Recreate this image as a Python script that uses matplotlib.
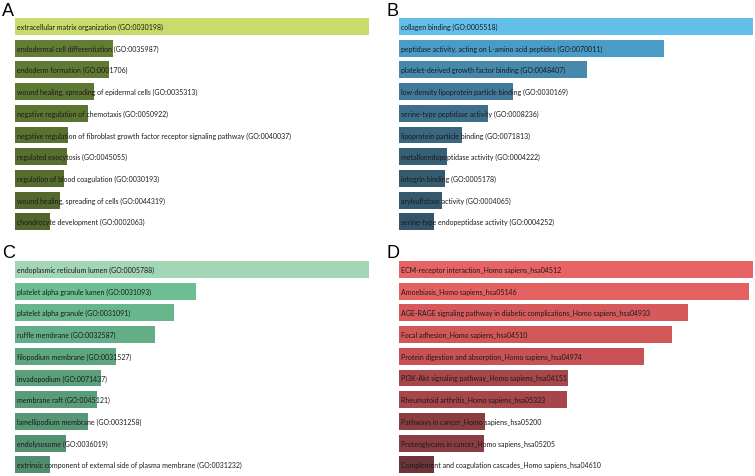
import matplotlib
matplotlib.use("Agg")
import matplotlib.pyplot as plt

# relative bar lengths (% of the top term)
go_bp_terms = [
    "extracellular matrix organization (GO:0030198)",
    "endodermal cell differentiation (GO:0035987)",
    "endoderm formation (GO:0001706)",
    "wound healing, spreading of epidermal cells (GO:0035313)",
    "negative regulation of chemotaxis (GO:0050922)",
    "negative regulation of fibroblast growth factor receptor signaling pathway (GO:0040037)",
    "regulated exocytosis (GO:0045055)",
    "regulation of blood coagulation (GO:0030193)",
    "wound healing, spreading of cells (GO:0044319)",
    "chondrocyte development (GO:0002063)",
]
go_bp_scores = [100, 27.7, 26.6, 22.3, 20.6, 15.0, 14.7, 13.8, 12.7, 9.9]
go_bp_colors = ["#c8dc6c", "#627c34", "#607a33", "#5e7732", "#5c7431",
                "#5a7130", "#586e2f", "#566b2e", "#54682d", "#52652c"]

go_mf_terms = [
    "collagen binding (GO:0005518)",
    "peptidase activity, acting on L-amino acid peptides (GO:0070011)",
    "platelet-derived growth factor binding (GO:0048407)",
    "low-density lipoprotein particle binding (GO:0030169)",
    "serine-type peptidase activity (GO:0008236)",
    "lipoprotein particle binding (GO:0071813)",
    "metalloendopeptidase activity (GO:0004222)",
    "integrin binding (GO:0005178)",
    "arylsulfatase activity (GO:0004065)",
    "serine-type endopeptidase activity (GO:0004252)",
]
go_mf_scores = [100, 74.9, 53.1, 32.2, 25.1, 17.8, 13.6, 13.0, 12.1, 9.9]
go_mf_colors = ["#63bfea", "#4a9cc8", "#4689ad", "#41799a", "#3d6e8a",
                "#3a6680", "#375f76", "#355b71", "#34586d", "#33546a"]

go_cc_terms = [
    "endoplasmic reticulum lumen (GO:0005788)",
    "platelet alpha granule lumen (GO:0031093)",
    "platelet alpha granule (GO:0031091)",
    "ruffle membrane (GO:0032587)",
    "filopodium membrane (GO:0031527)",
    "invadopodium (GO:0071437)",
    "membrane raft (GO:0045121)",
    "lamellipodium membrane (GO:0031258)",
    "endolysosome (GO:0036019)",
    "extrinsic component of external side of plasma membrane (GO:0031232)",
]
go_cc_scores = [100, 51.1, 44.9, 39.5, 28.5, 24.3, 23.2, 20.6, 14.4, 9.9]
go_cc_colors = ["#a3d5b7", "#6dbf93", "#68b68c", "#63ae86", "#5ea680",
                "#5aa07b", "#589c78", "#569876", "#539270", "#518e6d"]

kegg_terms = [
    "ECM-receptor interaction_Homo sapiens_hsa04512",
    "Amoebiasis_Homo sapiens_hsa05146",
    "AGE-RAGE signaling pathway in diabetic complications_Homo sapiens_hsa04933",
    "Focal adhesion_Homo sapiens_hsa04510",
    "Protein digestion and absorption_Homo sapiens_hsa04974",
    "PI3K-Akt signaling pathway_Homo sapiens_hsa04151",
    "Rheumatoid arthritis_Homo sapiens_hsa05323",
    "Pathways in cancer_Homo sapiens_hsa05200",
    "Proteoglycans in cancer_Homo sapiens_hsa05205",
    "Complement and coagulation cascades_Homo sapiens_hsa04610",
]
kegg_scores = [100, 98.9, 81.6, 77.1, 69.2, 47.7, 47.5, 24.3, 24.0, 9.9]
kegg_colors = ["#e86464", "#e56162", "#d65a5c", "#d25759", "#c95256",
               "#a8474b", "#a7464a", "#8a3e42", "#893d42", "#6e3538"]

W, H = 755, 477
fig = plt.figure(figsize=(W / 100, H / 100), dpi=100)


def panel(letter, left, top, terms, scores, colors):
    # left/top in pixels: left edge of bars, centre of first bar
    row = 21.7
    ax_top = top - row / 2
    ax = fig.add_axes([left / W, 1 - (ax_top + 10 * row) / H, 355 / W, 10 * row / H])
    ypos = list(range(len(terms)))
    ax.barh(ypos, scores, height=0.78, color=colors, edgecolor="none")
    for y, t in zip(ypos, terms):
        ax.text(0.6, y, t, va="center", ha="left", fontsize=5.0,
                family="Lato", color="#1a1a1a")
    ax.set_xlim(0, 100 * 355 / 354)
    ax.set_ylim(len(terms) - 0.5, -0.5)
    ax.axis("off")
    fig.text((left - 13) / W, 1 - (top - 25) / H, letter, fontsize=13,
             family="Liberation Sans", va="top", ha="left")


panel("A", 15, 27.5, go_bp_terms, go_bp_scores, go_bp_colors)
panel("B", 399, 27.5, go_mf_terms, go_mf_scores, go_mf_colors)
panel("C", 15, 270.5, go_cc_terms, go_cc_scores, go_cc_colors)
panel("D", 399, 270.5, kegg_terms, kegg_scores, kegg_colors)

fig.savefig("out.png", dpi=100)
